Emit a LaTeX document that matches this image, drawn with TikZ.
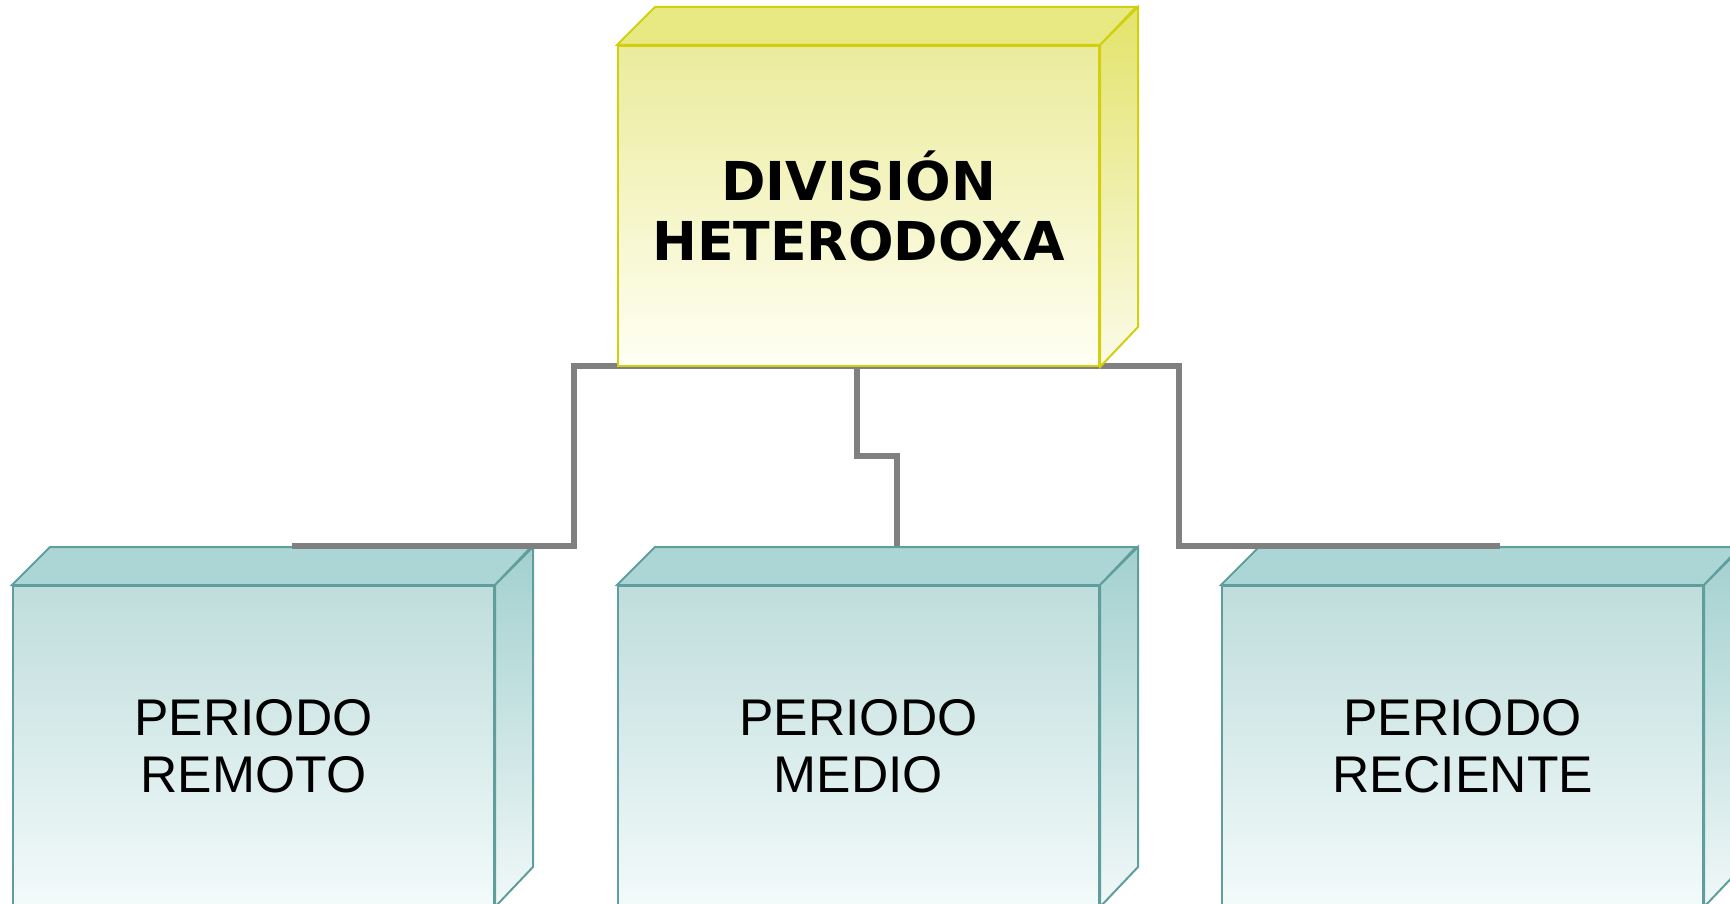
\documentclass[tikz,border=0pt]{standalone}
\usepackage{fontspec}
\newfontfamily\headfont{DejaVu Sans}
\newfontfamily\periodfont{Liberation Sans}
\usepackage{tikz}
\usetikzlibrary{positioning}
\usepackage{xcolor}

\definecolor{yelEdge}{HTML}{D0D010}
\definecolor{yelTop}{HTML}{EBEB9C}
\definecolor{yelLow}{HTML}{FFFFF4}
\definecolor{yelFace}{HTML}{E9E984}
\definecolor{yelSide}{HTML}{E3E36A}
\definecolor{tealEdge}{HTML}{5F9E9C}
\definecolor{tealTop}{HTML}{BFDDDC}
\definecolor{tealLow}{HTML}{F3FAFA}
\definecolor{tealFace}{HTML}{ACD6D5}
\definecolor{tealSide}{HTML}{A2D0CF}
\definecolor{linkGray}{HTML}{808080}

\tikzset{
    front/.style={minimum width=240.5pt, minimum height=160pt, inner sep=0pt,
        line width=1pt, align=center},
    headbox/.style={front, draw=yelEdge, top color=yelTop, bottom color=yelLow,
        font=\headfont\bfseries\fontsize{26.8}{30.3}\selectfont},
    periodbox/.style={front, draw=tealEdge, top color=tealTop, bottom color=tealLow,
        font=\periodfont\fontsize{25.8}{28.7}\selectfont},
    link/.style={draw=linkGray, line width=2.6pt}
}

% depth faces of a box: node name, face colour, side colour, edge colour
\newcommand{\depthfaces}[4]{%
    \draw [line width=1pt, draw=#4, fill=#2] (#1.north west) -- ++(38,-38)
        -- ++(481,0) -- (#1.north east) -- cycle;
    \draw [line width=1pt, draw=#4, top color=#3, bottom color=#3!15!white] (#1.north east)
        -- ++(38,-38) -- ++(0,320) -- (#1.south east) -- cycle;
}

\begin{document}
\begin{tikzpicture}[x=0.5pt, y=-0.5pt]
    \useasboundingbox (0,0) rectangle (1730,904);

    % Lower boxes
    \node [periodbox] (remoto) at (253.5,746) {PERIODO\\ REMOTO};
    \depthfaces{remoto}{tealFace}{tealSide}{tealEdge}
    \node [periodbox] (medio) at (858.5,746) {PERIODO\\ MEDIO};
    \depthfaces{medio}{tealFace}{tealSide}{tealEdge}
    \node [periodbox] (reciente) at (1462.5,746) {PERIODO\\ RECIENTE};
    \depthfaces{reciente}{tealFace}{tealSide}{tealEdge}

    % Connector corners
    \coordinate (split) at (857,366);
    \coordinate (leftEnd) at (292,546);
    \coordinate (rightEnd) at (1500,546);

    % Lines
    \draw [link] (split) -- (574,366) -- (574,546) -- (leftEnd);
    \draw [link] (split) -- (857,456) -- (897,456) -- (897,546);
    \draw [link] (split) -- (1179,366) -- (1179,546) -- (rightEnd);

    % Top box
    \node [headbox] (division) at (858.5,206) {DIVISIÓN\\ HETERODOXA};
    \depthfaces{division}{yelFace}{yelSide}{yelEdge}
\end{tikzpicture}
\end{document}
